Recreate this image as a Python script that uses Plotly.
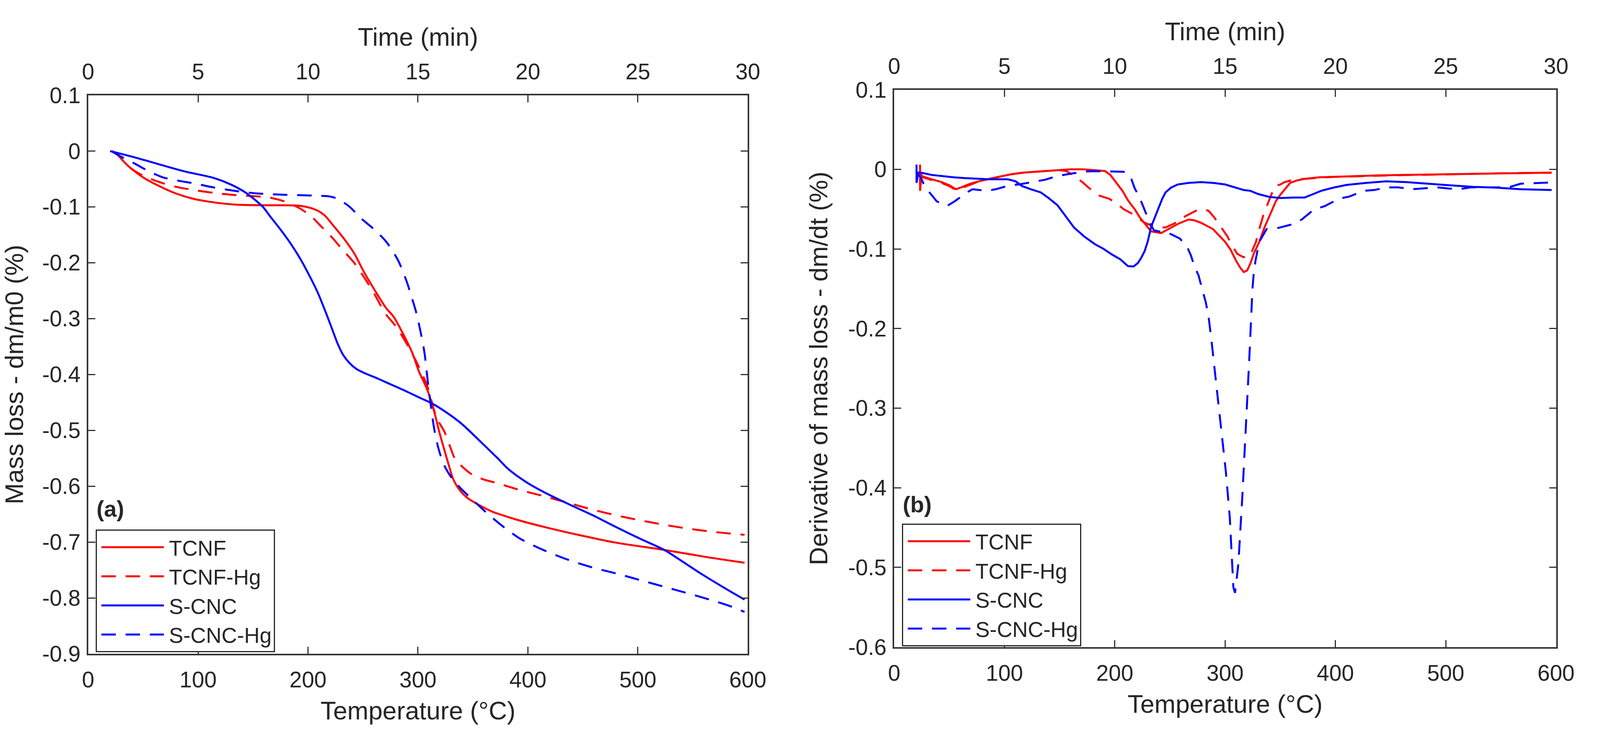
import plotly.graph_objects as go

# ---- (a) mass loss, temperature in degC ----
tcnf_t = [21, 27, 33, 39, 50, 64, 80, 97, 115, 135, 160, 193, 207, 215, 222, 232, 242, 251, 261, 271,
          278, 290, 295, 301, 308, 315, 319, 324, 328, 332, 338, 345, 355, 367, 390, 415, 448, 480, 524,
          560, 597]
tcnf_m = [0, -0.007, -0.020, -0.031, -0.047, -0.062, -0.076, -0.086, -0.092, -0.096, -0.097, -0.098,
          -0.105, -0.115, -0.131, -0.155, -0.183, -0.217, -0.250, -0.281, -0.297, -0.341, -0.362, -0.395,
          -0.425, -0.468, -0.500, -0.535, -0.562, -0.587, -0.607, -0.621, -0.633, -0.645, -0.660, -0.673,
          -0.688, -0.701, -0.714, -0.726, -0.737]

tcnfhg_t = [22, 27, 33, 39, 50, 64, 80, 97, 115, 135, 164, 180, 192, 203, 212, 222, 232, 242, 252, 261,
            270, 280, 291, 298, 304, 308, 312, 315, 319, 324, 329, 334, 342, 350, 360, 371, 393, 415, 437,
            459, 480, 502, 524, 546, 570, 597]
tcnfhg_m = [0, -0.007, -0.020, -0.031, -0.044, -0.055, -0.064, -0.070, -0.075, -0.079, -0.083, -0.091,
            -0.102, -0.117, -0.135, -0.155, -0.178, -0.200, -0.229, -0.258, -0.290, -0.314, -0.349, -0.375,
            -0.400, -0.418, -0.445, -0.466, -0.485, -0.502, -0.528, -0.552, -0.568, -0.580, -0.588, -0.594,
            -0.607, -0.618, -0.630, -0.642, -0.652, -0.661, -0.669, -0.676, -0.682, -0.687]

scnc_t = [20, 40, 58, 87, 114, 130, 143, 151, 159, 166, 174, 184, 193, 201, 209, 216, 222, 227, 232, 238,
          244, 252, 262, 271, 286, 301, 313, 326, 339, 350, 361, 372, 382, 398, 415, 437, 459, 480, 502,
          524, 540, 557, 577, 597]
scnc_m = [0, -0.010, -0.020, -0.036, -0.048, -0.060, -0.074, -0.086, -0.100, -0.118, -0.138, -0.165,
          -0.193, -0.222, -0.254, -0.288, -0.319, -0.345, -0.365, -0.380, -0.390, -0.398, -0.406, -0.414,
          -0.427, -0.441, -0.452, -0.468, -0.487, -0.507, -0.528, -0.549, -0.569, -0.592, -0.611, -0.632,
          -0.652, -0.673, -0.694, -0.714, -0.734, -0.756, -0.780, -0.803]

scnchg_t = [21, 30, 42, 55, 68, 82, 97, 111, 126, 140, 155, 175, 193, 210, 219, 225, 230, 238, 248, 260,
            271, 282, 290, 294, 298, 302, 306, 309, 312, 315, 319, 324, 331, 339, 349, 361, 376, 393, 415,
            437, 458, 480, 502, 524, 546, 567, 583, 597]
scnchg_m = [0, -0.010, -0.022, -0.036, -0.047, -0.053, -0.058, -0.064, -0.069, -0.073, -0.076, -0.078,
            -0.079, -0.080, -0.081, -0.084, -0.089, -0.100, -0.120, -0.140, -0.162, -0.196, -0.235, -0.260,
            -0.286, -0.320, -0.362, -0.414, -0.460, -0.500, -0.535, -0.563, -0.586, -0.604, -0.623, -0.645,
            -0.670, -0.694, -0.715, -0.732, -0.745, -0.756, -0.768, -0.780, -0.792, -0.804, -0.814, -0.825]

# ---- (b) derivative of mass loss ----
d_tcnf_t = [23.5, 23.5, 24.5, 26, 33, 43, 50, 56, 62, 69, 77, 86, 96, 107, 118, 128, 140, 150, 160, 171,
            181, 191, 196, 201, 207, 212, 218, 223, 228, 233, 242, 250, 258, 267, 272, 278, 289, 300, 305,
            310, 314, 317, 320, 323, 326, 331, 336, 342, 346, 350, 355, 359, 365, 372, 385, 397, 418, 440,
            461, 482, 504, 525, 546, 570, 596]
d_tcnf = [0.006, -0.027, -0.012, -0.009, -0.012, -0.016, -0.020, -0.025, -0.022, -0.018, -0.015, -0.012,
          -0.009, -0.006, -0.004, -0.003, -0.002, -0.001, 0.000, 0.000, -0.001, -0.002, -0.007, -0.016,
          -0.027, -0.039, -0.050, -0.061, -0.070, -0.078, -0.080, -0.074, -0.068, -0.063, -0.064, -0.067,
          -0.075, -0.091, -0.101, -0.115, -0.124, -0.129, -0.127, -0.118, -0.106, -0.091, -0.072, -0.053,
          -0.040, -0.032, -0.024, -0.017, -0.014, -0.012, -0.010, -0.0093, -0.0085, -0.0075, -0.0070,
          -0.0065, -0.0058, -0.0054, -0.0048, -0.0045, -0.0041]

d_tcnfhg_t = [24, 26, 33, 43, 50, 56, 62, 69, 77, 86, 96, 107, 118, 128, 140, 150, 156, 163, 171, 178,
              186, 195, 201, 208, 216, 222, 227, 234, 240, 246, 254, 261, 268, 275, 280, 285, 290, 296,
              302, 306, 311, 316, 320, 324, 328, 331, 335, 339, 345, 350, 354, 362, 372, 385, 397, 418,
              440, 461, 482, 504, 525, 546, 570, 596]
d_tcnfhg = [-0.005, -0.010, -0.013, -0.017, -0.021, -0.026, -0.023, -0.019, -0.015, -0.012, -0.009,
            -0.006, -0.004, -0.003, -0.002, -0.001, -0.002, -0.008, -0.0165, -0.025, -0.033, -0.037,
            -0.042, -0.050, -0.056, -0.062, -0.067, -0.071, -0.073, -0.073, -0.068, -0.061, -0.056,
            -0.051, -0.050, -0.052, -0.060, -0.072, -0.084, -0.095, -0.106, -0.110, -0.111, -0.104,
            -0.091, -0.075, -0.056, -0.042, -0.021, -0.019, -0.016, -0.013, -0.012, -0.011, -0.0095,
            -0.0088, -0.0078, -0.0072, -0.0068, -0.0060, -0.0056, -0.0050, -0.0046, -0.0042]

d_scnc_t = [20.3, 20.3, 22, 26, 34, 43, 54, 64, 75, 86, 95, 103, 110, 116, 124, 133, 140, 148, 155, 163,
            172, 182, 190, 197, 205, 212, 217, 221, 224, 227, 230, 233, 237, 240, 243, 246, 251, 257, 267,
            278, 289, 300, 310, 317, 323, 330, 340, 350, 362, 372, 380, 387, 398, 410, 428, 446, 464, 482,
            503, 525, 546, 568, 596]
d_scnc = [0.006, -0.017, -0.004, -0.0046, -0.007, -0.0085, -0.010, -0.011, -0.012, -0.0125, -0.0125,
          -0.0125, -0.015, -0.021, -0.025, -0.029, -0.036, -0.045, -0.058, -0.073, -0.084, -0.094, -0.100,
          -0.1066, -0.113, -0.1216, -0.122, -0.1176, -0.111, -0.103, -0.090, -0.072, -0.058, -0.048,
          -0.037, -0.029, -0.023, -0.019, -0.017, -0.016, -0.017, -0.019, -0.023, -0.026, -0.027, -0.031,
          -0.0346, -0.036, -0.0354, -0.0354, -0.031, -0.027, -0.023, -0.0196, -0.017, -0.015, -0.016,
          -0.018, -0.020, -0.022, -0.023, -0.025, -0.026]

d_scnchg_t = [20, 24, 28, 33, 38.5, 44, 48, 55, 61, 66, 71, 77, 84, 92, 99, 105, 113, 121, 128.5, 137,
              144, 150, 158, 165, 171, 182, 193, 203, 208, 212, 215, 218, 222, 225, 229, 232, 235.5, 240,
              246, 253, 259, 265.5, 269, 272, 276, 279.5, 282.5, 285, 287.5, 291.6, 296, 300.7, 304.3,
              307.5, 309, 312, 315.7, 319, 322, 324.8, 326, 327.5, 329, 331, 337.6, 342, 347, 353, 360,
              369.5, 380, 390.6, 403, 413, 425.6, 435, 447, 457, 469, 479, 492, 502, 512, 523, 540, 557,
              568, 582, 596]
d_scnchg = [-0.003, -0.010, -0.022, -0.031, -0.040, -0.044, -0.046, -0.040, -0.034, -0.029, -0.025,
            -0.026, -0.027, -0.025, -0.022, -0.020, -0.019, -0.017, -0.015, -0.013, -0.010, -0.0078,
            -0.006, -0.0045, -0.003, -0.0023, -0.0025, -0.0025, -0.003, -0.0054, -0.012, -0.0236, -0.034,
            -0.044, -0.058, -0.068, -0.0766, -0.078, -0.078, -0.083, -0.087, -0.097, -0.108, -0.121,
            -0.1335, -0.152, -0.167, -0.185, -0.213, -0.265, -0.323, -0.380, -0.438, -0.525, -0.532,
            -0.496, -0.409, -0.323, -0.236, -0.150, -0.130, -0.115, -0.1034, -0.091, -0.075, -0.074,
            -0.074, -0.072, -0.0694, -0.063, -0.051, -0.046, -0.037, -0.034, -0.027, -0.026, -0.0226,
            -0.0226, -0.025, -0.024, -0.0226, -0.024, -0.025, -0.0226, -0.0226, -0.0226, -0.018, -0.017,
            -0.0165]

# ---- axes ----
temp_ticks = [0, 100, 200, 300, 400, 500, 600]
time_ticks = [0, 5, 10, 15, 20, 25, 30]
ya_ticks = [0.1, 0, -0.1, -0.2, -0.3, -0.4, -0.5, -0.6, -0.7, -0.8, -0.9]
ya_labels = ["0.1", "0", "-0.1", "-0.2", "-0.3", "-0.4", "-0.5", "-0.6", "-0.7", "-0.8", "-0.9"]
yb_ticks = [0.1, 0, -0.1, -0.2, -0.3, -0.4, -0.5, -0.6]
yb_labels = ["0.1", "0", "-0.1", "-0.2", "-0.3", "-0.4", "-0.5", "-0.6"]

names = ["TCNF", "TCNF-Hg", "S-CNC", "S-CNC-Hg"]
colors = ["#ff0000", "#ff0000", "#0000ff", "#0000ff"]
dashes = ["solid", "37px,25px", "solid", "37px,25px"]

W, H = 4252, 1909
FONT = "Liberation Sans, Arial, sans-serif"
TXT = "#262626"
FRAME = "#333333"

fig = go.Figure()

tga = [(tcnf_t, tcnf_m), (tcnfhg_t, tcnfhg_m), (scnc_t, scnc_m), (scnchg_t, scnchg_m)]
dtg = [(d_tcnf_t, d_tcnf), (d_tcnfhg_t, d_tcnfhg), (d_scnc_t, d_scnc), (d_scnchg_t, d_scnchg)]

for i, (t, m) in enumerate(tga):
    fig.add_trace(go.Scatter(x=t, y=m, mode="lines", name=names[i], xaxis="x", yaxis="y",
                             line=dict(color=colors[i], width=5, dash=dashes[i], shape="spline",
                                       smoothing=0.8),
                             legend="legend"))
for i, (t, d) in enumerate(dtg):
    fig.add_trace(go.Scatter(x=t, y=d, mode="lines", name=names[i], xaxis="x2", yaxis="y2",
                             line=dict(color=colors[i], width=5, dash=dashes[i]), legend="legend2"))

# empty helpers so that the time axes get drawn
fig.add_trace(go.Scatter(x=time_ticks, y=[None] * len(time_ticks), xaxis="x3", yaxis="y",
                         showlegend=False, hoverinfo="skip"))
fig.add_trace(go.Scatter(x=time_ticks, y=[None] * len(time_ticks), xaxis="x4", yaxis="y2",
                         showlegend=False, hoverinfo="skip"))

dom_a = [221 / W, 2002 / W]
dom_b = [2397 / W, 4184 / W]
ydom_a = [1 - 1698 / H, 1 - 219 / H]
ydom_b = [1 - 1680 / H, 1 - 204.5 / H]

tick_font = dict(family=FONT, size=57, color=TXT)
title_font = dict(family=FONT, size=65, color=TXT)

def xbottom(dom, anchor):
    return dict(domain=dom, anchor=anchor, range=[0, 600], tickvals=temp_ticks, ticks="inside",
                ticklen=18, tickwidth=3, tickcolor=FRAME, showline=True, linewidth=4, linecolor=FRAME,
                mirror="ticks", showgrid=False, zeroline=False, tickfont=tick_font,
                ticklabelstandoff=14,
                title=dict(text="Temperature (°C)", font=title_font, standoff=26))

def xtop(over, anchor):
    return dict(overlaying=over, anchor=anchor, side="top", range=[0, 30], tickvals=time_ticks,
                ticks="", showline=False, showgrid=False, zeroline=False, tickfont=tick_font,
                ticklabelstandoff=28,
                title=dict(text="Time (min)", font=title_font, standoff=12))

def yleft(dom, anchor, rng, vals, labels, title):
    return dict(domain=dom, anchor=anchor, range=rng, tickvals=vals, ticktext=labels, ticks="inside",
                ticklen=18, tickwidth=3, tickcolor=FRAME, showline=True, linewidth=4, linecolor=FRAME,
                mirror="ticks", showgrid=False, zeroline=False, tickfont=tick_font,
                ticklabelstandoff=4,
                title=dict(text=title, font=title_font, standoff=33))

fig.update_layout(
    width=W, height=H,
    margin=dict(l=0, r=0, t=0, b=0),
    paper_bgcolor="white", plot_bgcolor="white",
    font=dict(family=FONT, color=TXT),
    xaxis=xbottom(dom_a, "y"),
    xaxis2=xbottom(dom_b, "y2"),
    xaxis3=xtop("x", "y"),
    xaxis4=xtop("x2", "y2"),
    yaxis=yleft(ydom_a, "x", [-0.9, 0.1], ya_ticks, ya_labels, "Mass loss - dm/m0 (%)"),
    yaxis2=yleft(ydom_b, "x2", [-0.6, 0.1], yb_ticks, yb_labels, "Derivative of mass loss - dm/dt (%)"),
    legend=dict(x=241 / W, y=1 - 1369 / H, xanchor="left", yanchor="top", bgcolor="white",
                bordercolor=TXT, borderwidth=3, font=dict(family=FONT, size=55, color=TXT),
                itemwidth=175, tracegroupgap=0),
    legend2=dict(x=2418 / W, y=1 - 1353 / H, xanchor="left", yanchor="top", bgcolor="white",
                 bordercolor=TXT, borderwidth=3, font=dict(family=FONT, size=55, color=TXT),
                 itemwidth=175, tracegroupgap=0),
    annotations=[
        dict(text="<b>(a)</b>", x=241 / W, y=1 - 1314 / H, xref="paper", yref="paper",
             xanchor="left", yanchor="middle", showarrow=False, font=dict(family=FONT, size=58, color=TXT)),
        dict(text="<b>(b)</b>", x=2418 / W, y=1 - 1302 / H, xref="paper", yref="paper",
             xanchor="left", yanchor="middle", showarrow=False, font=dict(family=FONT, size=58, color=TXT)),
    ],
)

# pin the figure to the top-left corner, fit it into the visible window,
# then stretch the legend line samples to the long MATLAB style ones
post = """
document.documentElement.style.overflow = 'hidden';
document.body.style.overflow = 'hidden';
document.body.style.margin = '0';
var gd = document.getElementById('{plot_id}');
gd.style.position = 'fixed';
gd.style.left = '0px';
gd.style.top = '0px';
var vw = document.documentElement.clientWidth, vh = document.documentElement.clientHeight;
var fit = (vw > 0 && vh > 0 && (vw < 4252 || vh < 1909))
    ? Plotly.relayout(gd, {width: Math.min(vw, 4252), height: Math.min(vh, 1909)})
    : Promise.resolve();
fit.then(function () {
    gd.querySelectorAll('.legendlines path').forEach(function (p) { p.setAttribute('d', 'M12,0h160'); });
});
"""

fig.write_html("out.html", post_script=post, config={"displayModeBar": False})
